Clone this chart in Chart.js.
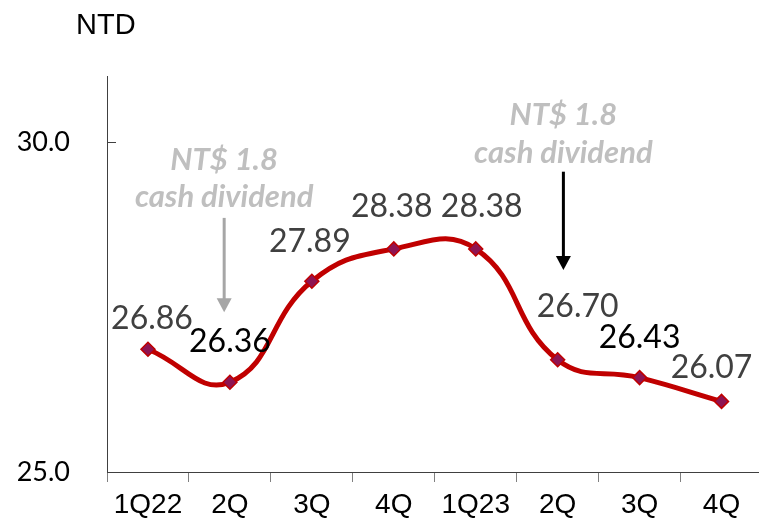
<!DOCTYPE html>
<html>
<head>
<meta charset="utf-8">
<script src="https://cdn.jsdelivr.net/npm/chart.js@4/dist/chart.umd.min.js"></script>
<style>
  html, body { margin: 0; padding: 0; background: #fff; overflow: hidden; }
  /* a little wider than the window: the last category runs off the right edge */
  #wrap { width: 771px; height: 522px; }
</style>
</head>
<body>
<div id="wrap"><canvas id="chartNtd"></canvas></div>
<script>
/* ================= DATA ================= */
const categorias = ["1Q22", "2Q", "3Q", "4Q", "1Q23", "2Q", "3Q", "4Q"];
const valores = [26.86, 26.36, 27.89, 28.38, 28.38, 26.70, 26.43, 26.07];
const yTicks = [25.0, 30.0];
const unidad = "NTD";

/* label look, one per point */
const colorEtiqueta = ["#404040", "#000000", "#404040", "#404040", "#404040", "#404040", "#000000", "#404040"];
const desplazaX = [4, 0, -2, -2, 6, 20, 0, -10];
const desplazaY = [-31, -41, -40, -42, -42, -53, -40, -34];

/* dividend notes: x in category index, y in NTD */
const notas = [
  { x: 0.93, texto: ["NT$ 1.8", "cash dividend"], yTexto: [29.73, 29.17], yDesde: 28.85, yHasta: 27.42, color: "#A6A6A6" },
  { x: 5.07, texto: ["NT$ 1.8", "cash dividend"], yTexto: [30.41, 29.83], yDesde: 29.55, yHasta: 28.06, color: "#000000" }
];

/* ================= PLUGINS ================= */
const extras = {
  id: "extras",
  afterDraw(chart) {
    const ctx = chart.ctx;
    const x = chart.scales.x;
    const y = chart.scales.y;
    ctx.save();

    // unit title
    ctx.fillStyle = "#000";
    ctx.font = "29px 'Liberation Sans', Arial, sans-serif";
    ctx.textAlign = "left";
    ctx.textBaseline = "middle";
    ctx.fillText(unidad, 76, 26);

    // y ticks drawn inside the axis
    ctx.strokeStyle = "#404040";
    ctx.lineWidth = 1;
    yTicks.forEach(v => {
      const py = Math.round(y.getPixelForValue(v)) + 0.5;
      ctx.beginPath();
      ctx.moveTo(x.left, py);
      ctx.lineTo(x.left + 9, py);
      ctx.stroke();
    });

    // notes and arrows
    notas.forEach(n => {
      const px = x.getPixelForValue(n.x);
      ctx.fillStyle = "#BFBFBF";
      ctx.font = "italic bold 31px Lato, sans-serif";
      ctx.textAlign = "center";
      ctx.textBaseline = "middle";
      n.texto.forEach((t, i) => ctx.fillText(t, px, y.getPixelForValue(n.yTexto[i])));

      const y1 = y.getPixelForValue(n.yDesde);
      const y2 = y.getPixelForValue(n.yHasta);
      ctx.strokeStyle = n.color;
      ctx.fillStyle = n.color;
      ctx.lineWidth = 3;
      ctx.beginPath();
      ctx.moveTo(px, y1);
      ctx.lineTo(px, y2 - 12);
      ctx.stroke();
      ctx.beginPath();
      ctx.moveTo(px - 7.5, y2 - 14);
      ctx.lineTo(px + 7.5, y2 - 14);
      ctx.lineTo(px, y2);
      ctx.closePath();
      ctx.fill();
    });

    // data labels
    const meta = chart.getDatasetMeta(0);
    ctx.font = "32px Lato, sans-serif";
    ctx.textAlign = "center";
    ctx.textBaseline = "middle";
    meta.data.forEach((p, i) => {
      ctx.fillStyle = colorEtiqueta[i];
      ctx.fillText(valores[i].toFixed(2), p.x + desplazaX[i], p.y + desplazaY[i]);
    });

    ctx.restore();
  }
};

/* ================= CHART ================= */
new Chart(document.getElementById("chartNtd"), {
  type: "line",
  data: {
    labels: categorias,
    datasets: [{
      data: valores,
      borderColor: "#C00000",
      borderWidth: 5,
      tension: 0.45,
      pointStyle: "rectRot",
      pointRadius: 7,
      pointBackgroundColor: "#8E1452",
      pointBorderColor: "#C00000",
      pointBorderWidth: 1.5
    }]
  },
  options: {
    responsive: true,
    maintainAspectRatio: false,
    animation: false,
    layout: { padding: { top: 76, right: 0, left: 0, bottom: 0 } },
    plugins: { legend: { display: false }, tooltip: { enabled: false } },
    scales: {
      x: {
        offset: true,
        grid: { offset: true, drawOnChartArea: false, drawTicks: true, tickLength: 10, color: "#808080" },
        border: { color: "#404040", width: 1 },
        ticks: {
          color: "#000",
          font: { family: "'Liberation Sans', Arial, sans-serif", size: 28 },
          padding: 6,
          maxRotation: 0,
          autoSkip: false
        },
        afterFit: s => { s.height = 50; }
      },
      y: {
        min: 25,
        max: 31,
        afterBuildTicks: s => { s.ticks = yTicks.map(v => ({ value: v })); },
        grid: { drawOnChartArea: false, drawTicks: false },
        border: { color: "#404040", width: 1 },
        ticks: {
          color: "#000",
          font: { family: "Lato, sans-serif", size: 27 },
          padding: 37,
          callback: v => Number(v).toFixed(1)
        },
        afterFit: s => { s.width = 107; s.paddingTop = 0; s.paddingBottom = 0; }
      }
    }
  },
  plugins: [extras]
});
</script>
</body>
</html>
